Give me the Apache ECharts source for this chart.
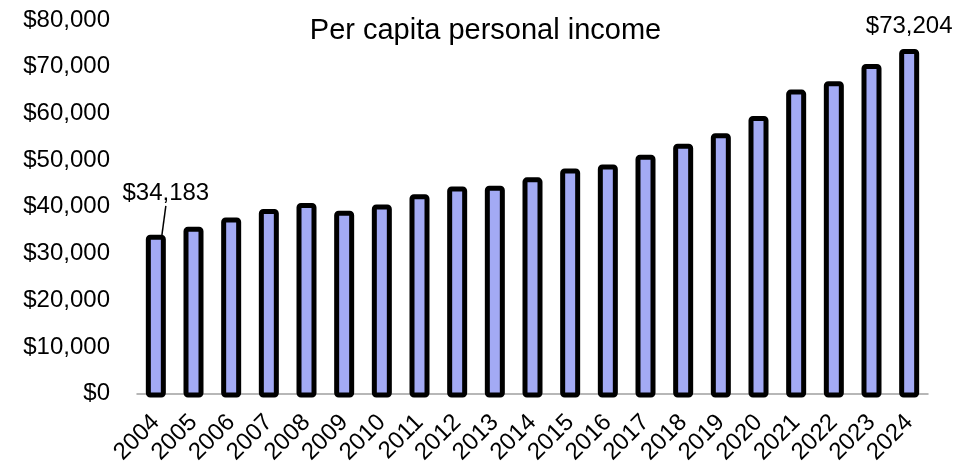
<!DOCTYPE html>
<html>
<head>
<meta charset="utf-8">
<script src="https://cdn.jsdelivr.net/npm/echarts@6/dist/echarts.min.js"></script>
<style>html,body{margin:0;padding:0;background:#fff}#c{width:971px;height:467px}</style>
</head>
<body>
<div id="c"></div>
<script>
const years = ['2004','2005','2006','2007','2008','2009','2010','2011','2012','2013','2014','2015','2016','2017','2018','2019','2020','2021','2022','2023','2024'];
const income = [34183,35870,37810,39590,40870,39230,40570,42700,44340,44480,46250,48100,48950,50990,53330,55540,59160,64680,66450,70070,73204];
const labeledIdx = [0, 20];
const titleText = 'Per capita personal income';

const fmt = v => '$' + v.toLocaleString('en-US');
const FONT = 'Liberation Sans, Arial, sans-serif';

const chart = echarts.init(document.getElementById('c'));
chart.setOption({
  animation: false,
  title: {
    text: titleText, left: 'center', top: 11,
    textStyle: {fontFamily: FONT, fontSize: 29, fontWeight: 'normal', color: '#000'}
  },
  grid: [
    {left: 137, right: 43, top: 20, bottom: 71},
    {left: 137, right: 43, top: 16.7, bottom: 69.5}
  ],
  xAxis: [{
    type: 'category', data: years, gridIndex: 0,
    axisLine: {lineStyle: {color: '#a0a0a0', width: 1.5}},
    axisTick: {show: false},
    axisLabel: {rotate: 45, margin: 25, fontFamily: FONT, fontSize: 24, color: '#000', interval: 0}
  }, {
    type: 'category', data: years, gridIndex: 1, show: false
  }],
  yAxis: [{
    type: 'value', min: 0, max: 80000, interval: 10000, gridIndex: 0,
    axisLine: {show: false}, axisTick: {show: false},
    splitLine: {show: false},
    axisLabel: {margin: 27, fontFamily: FONT, fontSize: 24, color: '#000', formatter: v => fmt(v)}
  }, {
    type: 'value', min: 0, max: 80000, interval: 10000, gridIndex: 1, show: false,
    splitLine: {show: false}
  }],
  series: [{
    type: 'bar', barWidth: 20, xAxisIndex: 1, yAxisIndex: 1, z: 3,
    itemStyle: {color: '#a3aaf4', borderColor: '#000', borderWidth: 5, borderRadius: 2},
    data: income.map((v, i) => labeledIdx.includes(i) ? {
      value: v,
      label: {show: true, position: 'top', distance: 11, fontFamily: FONT, fontSize: 24, color: '#000',
              padding: i === 0 ? [0, 0, 6, 0] : 0, formatter: p => fmt(p.value)},
      labelLine: {show: i === 0, lineStyle: {color: '#000', width: 1.5}}
    } : v),
    labelLayout: function (p) {
      if (p.dataIndex === 0) return {dx: 10, dy: -12};
      return {};
    }
  }]
});
</script>
</body>
</html>
